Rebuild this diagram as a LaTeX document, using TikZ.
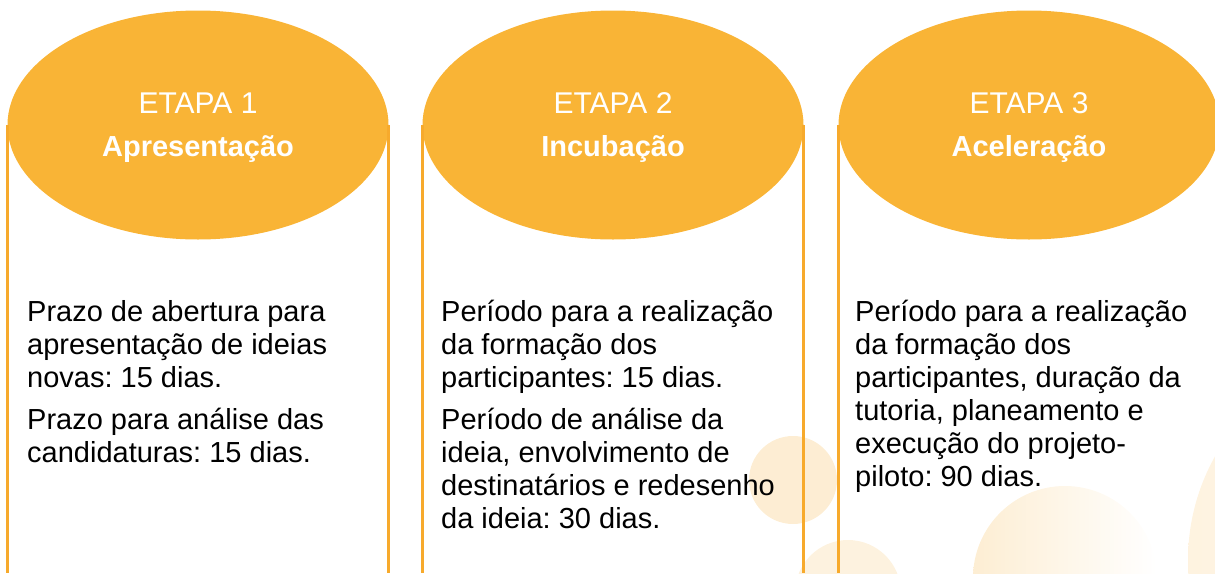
\documentclass[tikz,border=0pt]{standalone}
\usepackage{fontspec}
\setmainfont{Liberation Sans}
\usetikzlibrary{shapes.geometric}
\definecolor{etapaorange}{HTML}{F9B436}
\definecolor{etapaline}{HTML}{F7AA2C}
\definecolor{blob}{HTML}{FCE6C0}
\tikzset{
  etapa/.style={ellipse, fill=etapaorange, text=white, minimum width=381pt,
    minimum height=229pt, inner sep=0pt, align=center, text depth=0pt,
    font=\fontsize{30}{43}\selectfont},
  coluna/.style={draw=etapaline, line width=2.5pt},
  texto/.style={anchor=base west, align=left, inner sep=0pt,
    font=\fontsize{29}{33}\selectfont}
}
\frenchspacing
\begin{document}
\begin{tikzpicture}[x=1pt,y=-1pt]
    \useasboundingbox (0,0) rectangle (1215,573);
    \clip (0,0) rectangle (1215,573);
    % fundo
    \fill[blob, opacity=0.7] (793,480) circle (44pt);
    \fill[blob, opacity=0.5] (848,593) circle (53pt);
    \shade[left color=blob!70, right color=white] (1065,578) circle (92pt);
    \shade[left color=blob!50, right color=white] (1400,560) circle (212pt);

    \coordinate (bottom) at (0,573);
    \node[etapa] (e1) at (198,125) {ETAPA 1\\\fontsize{29}{43}\selectfont\textbf{Apresentação}};
    \node[etapa] (e2) at (613,125) {ETAPA 2\\\fontsize{29}{43}\selectfont\textbf{Incubação}};
    \node[etapa] (e3) at (1029,125) {ETAPA 3\\\fontsize{29}{43}\selectfont\textbf{Aceleração}};

    \foreach \n in {e1, e2}
    \draw[coluna] (\n.west) -- (\n.west |- bottom) (\n.east) -- (\n.east |- bottom);
    \draw[coluna] (e3.west) -- (e3.west |- bottom);

    % base = baseline of the last line
    \node[texto] (t1) at (27,462) {Prazo de abertura para\\apresentação de ideias\\novas: 15 dias.\\[9pt]Prazo para análise das\\candidaturas: 15 dias.};
    \node[texto] (t2) at (441,528) {Período para a realização\\da formação dos\\participantes: 15 dias.\\[9pt]Período de análise da\\ideia, envolvimento de\\destinatários e redesenho\\da ideia: 30 dias.};
    \node[texto] (t3) at (855,486) {Período para a realização\\da formação dos\\participantes, duração da\\tutoria, planeamento e\\execução do projeto-\\piloto: 90 dias.};
  \end{tikzpicture}
\end{document}
